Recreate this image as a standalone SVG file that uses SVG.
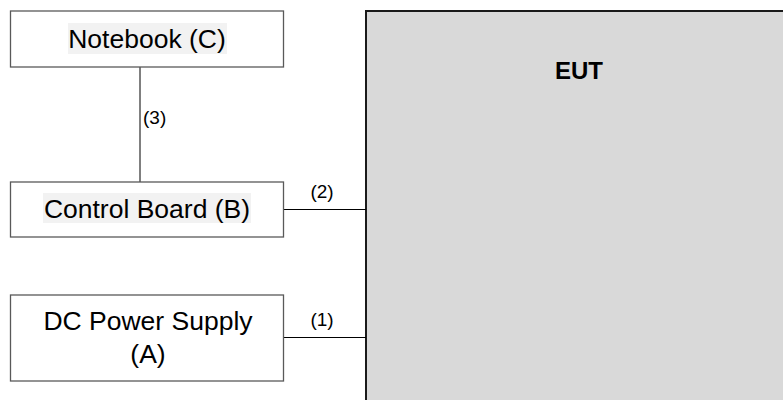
<svg xmlns="http://www.w3.org/2000/svg" width="783" height="400" viewBox="0 0 783 400">
<style>
.box{fill:#ffffff;stroke:#595959;stroke-width:1.3}
.hl{fill:#f2f2f2;stroke:none}
.t{font-family:"Liberation Sans",Arial,sans-serif;font-size:26.5px;fill:#000;text-anchor:middle}
.lbl{font-family:"Liberation Sans",Arial,sans-serif;font-size:19px;fill:#000}
.ln{stroke:#000;stroke-width:1;fill:none}
</style>
<rect width="783" height="400" fill="#ffffff"/>
<g id="eut">
<rect x="366" y="11" width="430" height="400" fill="#d9d9d9" stroke="#1a1a1a" stroke-width="2"/>
<text x="579" y="79" style="font-family:'Liberation Sans',Arial,sans-serif;font-size:24px;font-weight:bold;text-anchor:middle">EUT</text>
</g>
<g id="connectors">
<line class="ln" x1="140" y1="67" x2="140" y2="182" stroke="#404040"/>
<line class="ln" x1="283" y1="209.5" x2="366" y2="209.5"/>
<line class="ln" x1="283" y1="337.5" x2="366" y2="337.5"/>
<text class="lbl" x="143" y="124">(3)</text>
<text class="lbl" x="322" y="198" text-anchor="middle">(2)</text>
<text class="lbl" x="322" y="326" text-anchor="middle">(1)</text>
</g>
<g id="notebook">
<rect class="box" x="10.5" y="11" width="273" height="56"/>
<rect class="hl" x="68" y="23" width="159" height="31"/>
<text class="t" x="147" y="48">Notebook (C)</text>
</g>
<g id="control-board">
<rect class="box" x="10.5" y="182" width="273" height="55"/>
<rect class="hl" x="43" y="193" width="208" height="30"/>
<text class="t" x="147" y="218">Control Board (B)</text>
</g>
<g id="dc-power-supply">
<rect class="box" x="10.5" y="295" width="273" height="86"/>
<text class="t" x="148" y="330">DC Power Supply</text>
<text class="t" x="148" y="363">(A)</text>
</g>
</svg>
